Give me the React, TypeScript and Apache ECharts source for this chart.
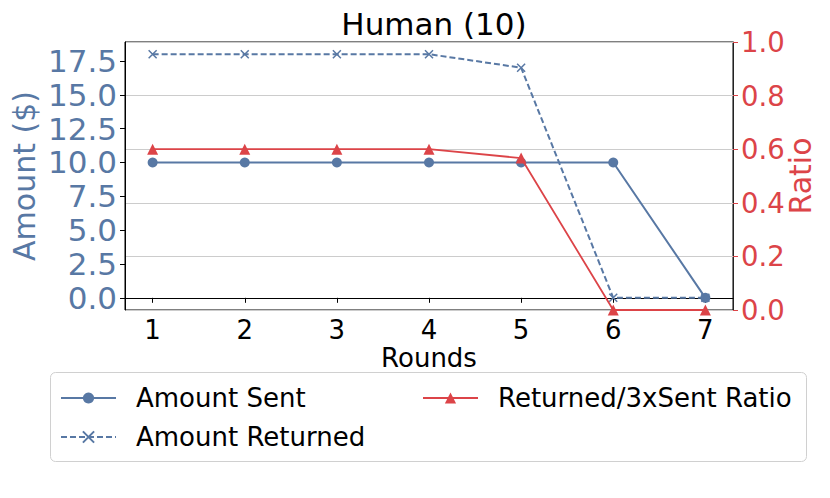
import React, { useEffect, useRef } from "react";
import * as echarts from "echarts";

const rounds = [1, 2, 3, 4, 5, 6, 7];
const amountSent = [10, 10, 10, 10, 10, 10, 0];
const amountReturned = [18, 18, 18, 18, 17, 0, 0];
const ratio = [0.6, 0.6, 0.6, 0.6, 0.567, 0, 0];
const amountTicks = [0, 2.5, 5, 7.5, 10, 12.5, 15, 17.5];

const BLUE = "#5878a4";
const RED = "#dc4448";
const FONT = "DejaVu Sans";
const X_MARK = "path://M0,0L10,10M10,0L0,10";

export default function App() {
  const ref = useRef<HTMLDivElement>(null);
  useEffect(() => {
    const chart = echarts.init(ref.current!, null, { renderer: "svg" });
    const pairs = (ys: number[]) => rounds.map((r, i) => [r, ys[i]]);
    const legendText = { fontFamily: FONT, fontSize: 26, color: "#000", padding: [0, 0, 0, 15] };
    const legendBase = { itemWidth: 55, itemHeight: 14, padding: 0, textStyle: legendText };
    chart.setOption({
      animation: false,
      textStyle: { fontFamily: FONT },
      title: {
        text: "Human (10)",
        left: 429,
        textAlign: "center",
        top: 3,
        textStyle: { fontFamily: FONT, fontSize: 31, fontWeight: "normal", color: "#000" },
      },
      grid: {
        left: 125,
        right: 97,
        top: 42,
        bottom: 188,
        containLabel: false,
        outerBoundsMode: "none",
        show: true,
        borderColor: "#000",
        borderWidth: 1,
        backgroundColor: "transparent",
      },
      graphic: [
        {
          type: "rect",
          shape: { x: 50.5, y: 372.5, width: 756, height: 89, r: 5 },
          style: { fill: "#fff", stroke: "#d0d0d0", lineWidth: 1 },
          z: -1,
        },
      ],
      legend: [
        { ...legendBase, data: ["Amount Sent"], left: 60, top: 385 },
        { ...legendBase, data: ["Amount Returned"], left: 60, top: 424 },
        { ...legendBase, data: ["Returned/3xSent Ratio"], left: 422, top: 385 },
      ],
      xAxis: {
        type: "value",
        min: 0.7,
        max: 7.3,
        name: "Rounds",
        nameLocation: "middle",
        nameGap: 35,
        nameMoveOverlap: false,
        nameTextStyle: { fontFamily: FONT, fontSize: 26, color: "#000", verticalAlign: "top" },
        axisLine: { show: true, lineStyle: { color: "#000", width: 1 } },
        axisTick: { show: true, length: 5, customValues: rounds, lineStyle: { color: "#000" } },
        axisLabel: {
          customValues: rounds,
          fontFamily: FONT,
          fontSize: 26,
          color: "#000",
          margin: 7,
        },
        splitLine: { show: false },
      },
      yAxis: [
        {
          type: "value",
          position: "left",
          min: -0.9,
          max: 18.9,
          name: "Amount ($)",
          nameLocation: "middle",
          nameGap: 86,
          nameMoveOverlap: false,
          nameTextStyle: { fontFamily: FONT, fontSize: 30, color: BLUE },
          axisLine: { show: true, lineStyle: { color: "#000" } },
          axisTick: { show: true, length: 5, customValues: amountTicks, lineStyle: { color: "#000" } },
          axisLabel: {
            customValues: amountTicks,
            formatter: (v: number) => v.toFixed(1),
            fontFamily: FONT,
            fontSize: 31,
            lineHeight: 31,
            color: BLUE,
            margin: 8,
          },
          splitLine: { show: false },
        },
        {
          type: "value",
          position: "right",
          min: 0,
          max: 1,
          interval: 0.2,
          name: "Ratio",
          nameLocation: "middle",
          nameGap: 52,
          nameMoveOverlap: false,
          nameTextStyle: { fontFamily: FONT, fontSize: 30, color: RED },
          axisLine: { show: true, lineStyle: { color: "#222" } },
          axisTick: { show: true, length: 5, lineStyle: { color: RED } },
          axisLabel: {
            formatter: (v: number) => v.toFixed(1),
            fontFamily: FONT,
            fontSize: 27.5,
            color: RED,
            margin: 8,
          },
          splitLine: { show: true, lineStyle: { color: "#cccccc", width: 1 } },
        },
      ],
      series: [
        {
          name: "Amount Sent",
          type: "line",
          yAxisIndex: 0,
          data: pairs(amountSent),
          symbol: "circle",
          symbolSize: 10,
          lineStyle: { color: BLUE, width: 2 },
          itemStyle: { color: BLUE },
          z: 3,
        },
        {
          name: "Amount Returned",
          type: "line",
          yAxisIndex: 0,
          data: pairs(amountReturned),
          symbol: X_MARK,
          symbolSize: 8,
          lineStyle: { color: BLUE, width: 2, type: [6, 3] },
          itemStyle: { color: "none", borderColor: BLUE, borderWidth: 1.5 },
          z: 3,
        },
        {
          name: "Returned/3xSent Ratio",
          type: "line",
          yAxisIndex: 1,
          data: pairs(ratio),
          symbol: "triangle",
          symbolSize: 11,
          lineStyle: { color: RED, width: 1.8 },
          itemStyle: { color: RED },
          z: 4,
        },
      ],
    });
    return () => chart.dispose();
  }, []);
  return (
    <div
      ref={ref}
      style={{ position: "fixed", left: 0, top: 0, width: 830, height: 498, background: "#fff" }}
    />
  );
}
